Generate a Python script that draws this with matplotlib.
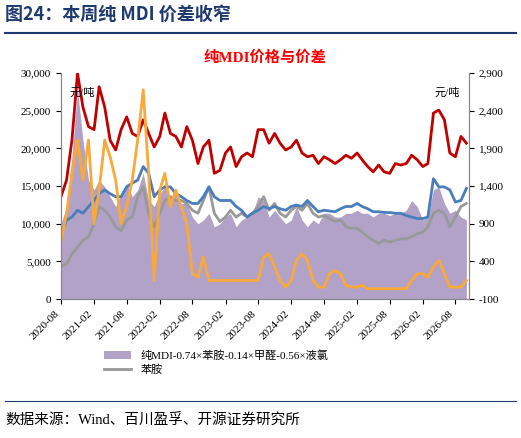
import numpy as np
import pandas as pd
import matplotlib
matplotlib.use('Agg')
import matplotlib.pyplot as plt
import matplotlib.dates as mdates

plt.rcParams['font.family'] = ['Liberation Serif', 'Noto Sans CJK SC']

dates = pd.date_range('2020-08-01', periods=75, freq='MS')

# red line, left axis
red = [13600, 15800, 21100, 30000, 25500, 22900, 22500, 28200, 25500, 21100, 19800, 22500,
       24200, 22000, 21600, 23800, 22000, 20200, 21600, 24700, 22000, 21600, 20200, 22900,
       21100, 18000, 20200, 21100, 16700, 17100, 19400, 20200, 17600, 18900, 19400, 18900,
       22500, 22500, 20700, 22000, 20700, 19800, 20200, 21100, 19400, 18900, 19100, 18000,
       18900, 18500, 18000, 18500, 19100, 18700, 19400, 18500, 17600, 16900, 17800, 16900,
       16700, 18000, 17800, 18000, 19100, 18500, 17600, 18000, 24700, 25100, 23800, 19400,
       18900, 21600, 20700]
# blue line, left axis
blue = [8700, 10500, 10900, 11800, 11400, 12300, 13100, 14000, 14500, 14000, 13600, 13600,
        14900, 15400, 15800, 17600, 16700, 13600, 14500, 14900, 14900, 14000, 13600, 13100,
        12700, 12700, 13600, 14900, 13600, 13100, 13100, 13100, 12300, 11800, 10900, 11400,
        11800, 12300, 12000, 12300, 12000, 11800, 12300, 12500, 12300, 13100, 12300, 11600,
        11800, 11700, 11600, 12000, 12300, 12300, 12700, 12300, 12000, 11600, 11600, 11500,
        11500, 11400, 11400, 11100, 10900, 10700, 10700, 10900, 16000, 14900, 14900, 14500,
        12900, 13100, 14700]
# 苯胺, left axis
aniline = [4300, 4700, 6000, 6900, 7800, 8300, 10000, 12300, 11800, 10900, 9600, 9100,
           10500, 10900, 13600, 14900, 11400, 9600, 11400, 13100, 13600, 13100, 13100, 12700,
           11800, 11400, 13100, 14900, 11400, 10300, 10900, 11800, 10900, 11400, 10900, 11400,
           12300, 13600, 11800, 12700, 11400, 10900, 11800, 12300, 11800, 12700, 11400, 10900,
           11100, 10700, 10300, 10500, 9600, 9400, 9400, 8900, 8300, 7800, 7400, 7800,
           7600, 7800, 8000, 8000, 8300, 8700, 8900, 9600, 11400, 11800, 11400, 9600,
           10900, 12300, 12700]
# 价差, left axis
spread = [10000, 12300, 18900, 27800, 21100, 15800, 14500, 15800, 14900, 13600, 12300, 14000,
          15400, 13600, 14500, 16700, 13100, 12300, 14000, 14900, 13600, 14000, 12700, 12700,
          10900, 10000, 10500, 11400, 9600, 10000, 10900, 11400, 9600, 10500, 10900, 11400,
          13600, 13100, 10900, 11800, 10900, 10000, 10500, 12300, 10500, 9600, 10500, 10000,
          11400, 11400, 10900, 10900, 11400, 11400, 11800, 11400, 11400, 10900, 11400, 11400,
          11100, 11400, 11400, 11800, 13100, 12300, 10500, 10900, 14500, 14900, 12700, 11400,
          11800, 10900, 10500]
# orange line, right axis
orange = [681, 1036, 1569, 2013, 1480, 2013, 903, 1347, 2013, 1791, 1480, 903,
          1125, 1480, 2013, 2679, 1569, 149, 1347, 1569, 1125, 1347, 1125, 903,
          237, 193, 459, 149, 149, 149, 149, 149, 149, 149, 149, 149,
          149, 459, 503, 326, 149, 60, 149, 415, 503, 415, 149, 60,
          60, 237, 281, 237, 82, 60, 60, 82, 38, 38, 38, 38,
          38, 38, 38, 38, 149, 237, 237, 193, 326, 415, 237, 60,
          60, 60, 149]

fig = plt.figure(figsize=(5.21, 4.38), dpi=100)
fig.text(0.01, 0.955, '图24：本周纯 MDI 价差收窄', fontsize=13, fontweight='bold',
         color='#1f3a6e', family=['Noto Sans CJK SC'])
fig.add_artist(plt.Line2D([0.01, 0.99], [0.925, 0.925], color='#1f3a6e', lw=1.5))

ax = fig.add_axes([0.117, 0.317, 0.783, 0.516])
ax.fill_between(dates, spread, color='#b3a2c7', lw=0, label='纯MDI-0.74×苯胺-0.14×甲醛-0.56×液氯')
ax.plot(dates, aniline, color='#999999', lw=2, label='苯胺')
ax.plot(dates, blue, color='#4a7ebb', lw=2)
ax.plot(dates, red, color='#c00000', lw=2)
ax.set_ylim(0, 30000)
ax.set_yticks(range(0, 30001, 5000))
ax.yaxis.set_major_formatter(matplotlib.ticker.FuncFormatter(lambda v, p: f'{int(v):,}'))
ax.set_xlim(pd.Timestamp('2020-08-01'), pd.Timestamp('2026-10-15'))
ax.xaxis.set_major_locator(mdates.MonthLocator(bymonth=[2, 8]))
ax.xaxis.set_major_formatter(mdates.DateFormatter('%Y-%m'))
plt.setp(ax.get_xticklabels(), rotation=45, ha='right', fontsize=8)
ax.tick_params(axis='y', labelsize=8)

ax2 = ax.twinx()
ax2.plot(dates, orange, color='#f9a93a', lw=2)
ax2.set_ylim(-100, 2900)
ax2.set_yticks(range(-100, 2901, 500))
ax2.yaxis.set_major_formatter(matplotlib.ticker.FuncFormatter(lambda v, p: f'{int(v):,}'))
ax2.tick_params(axis='y', labelsize=8)
for a in (ax, ax2):
    a.spines['top'].set_visible(False)
    for s in a.spines.values():
        s.set_color('#888888')

ax.text(0.02, 0.9, '元/吨', transform=ax.transAxes, fontsize=8)
ax.text(0.915, 0.9, '元/吨', transform=ax.transAxes, fontsize=8)
ax.set_title('纯MDI价格与价差', color='red', fontsize=11, fontweight='bold', pad=8)

ax.legend(loc='upper left', bbox_to_anchor=(0.08, -0.18), frameon=False, fontsize=8,
          handlelength=2.5, labelspacing=0.3)

fig.text(0.01, 0.03, '数据来源：Wind、百川盈孚、开源证券研究所', fontsize=10.5)
fig.add_artist(plt.Line2D([0.01, 0.99], [0.085, 0.085], color='#1f3a6e', lw=0.8))
fig.savefig('out.png', dpi=100)
